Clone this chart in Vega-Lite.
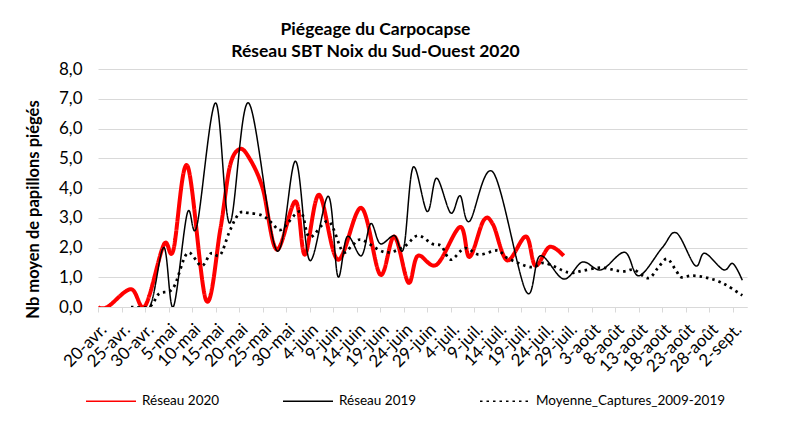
{
  "$schema": "https://vega.github.io/schema/vega-lite/v6.json",
  "width": 649,
  "height": 238,
  "autosize": {"type": "none"},
  "padding": {"left": 98, "top": 69, "right": 40, "bottom": 114},
  "background": "white",
  "config": {
    "font": "Lato",
    "view": {"stroke": null},
    "axis": {"labelColor": "#000000", "titleColor": "#000000"}
  },
  "title": {
    "text": ["Piégeage du Carpocapse", "Réseau SBT Noix du Sud-Ouest 2020"],
    "fontSize": 17.5,
    "fontWeight": "bold",
    "color": "#000000",
    "anchor": "middle",
    "dx": -47,
    "lineHeight": 22,
    "offset": 0
  },
  "data": {
    "values": [
      {"serie": "Réseau 2020", "date": "2020/04/20", "valeur": 0},
      {"serie": "Réseau 2020", "date": "2020/04/22", "valeur": 0},
      {"serie": "Réseau 2020", "date": "2020/04/27", "valeur": 0.6},
      {"serie": "Réseau 2020", "date": "2020/04/30", "valeur": 0.03},
      {"serie": "Réseau 2020", "date": "2020/05/04", "valeur": 2.1},
      {"serie": "Réseau 2020", "date": "2020/05/06", "valeur": 1.9},
      {"serie": "Réseau 2020", "date": "2020/05/09", "valeur": 4.75},
      {"serie": "Réseau 2020", "date": "2020/05/13", "valeur": 0.22},
      {"serie": "Réseau 2020", "date": "2020/05/16", "valeur": 2.6},
      {"serie": "Réseau 2020", "date": "2020/05/18", "valeur": 4.7},
      {"serie": "Réseau 2020", "date": "2020/05/20", "valeur": 5.3},
      {"serie": "Réseau 2020", "date": "2020/05/22", "valeur": 5.05},
      {"serie": "Réseau 2020", "date": "2020/05/25", "valeur": 4.0},
      {"serie": "Réseau 2020", "date": "2020/05/28", "valeur": 1.93},
      {"serie": "Réseau 2020", "date": "2020/06/01", "valeur": 3.55},
      {"serie": "Réseau 2020", "date": "2020/06/03", "valeur": 1.76},
      {"serie": "Réseau 2020", "date": "2020/06/06", "valeur": 3.77},
      {"serie": "Réseau 2020", "date": "2020/06/10", "valeur": 1.59},
      {"serie": "Réseau 2020", "date": "2020/06/15", "valeur": 3.33},
      {"serie": "Réseau 2020", "date": "2020/06/19", "valeur": 1.09},
      {"serie": "Réseau 2020", "date": "2020/06/22", "valeur": 2.37},
      {"serie": "Réseau 2020", "date": "2020/06/25", "valeur": 0.82},
      {"serie": "Réseau 2020", "date": "2020/06/27", "valeur": 1.72},
      {"serie": "Réseau 2020", "date": "2020/07/01", "valeur": 1.42},
      {"serie": "Réseau 2020", "date": "2020/07/06", "valeur": 2.69},
      {"serie": "Réseau 2020", "date": "2020/07/08", "valeur": 1.68},
      {"serie": "Réseau 2020", "date": "2020/07/11", "valeur": 2.91},
      {"serie": "Réseau 2020", "date": "2020/07/13", "valeur": 2.77},
      {"serie": "Réseau 2020", "date": "2020/07/16", "valeur": 1.57},
      {"serie": "Réseau 2020", "date": "2020/07/20", "valeur": 2.37},
      {"serie": "Réseau 2020", "date": "2020/07/22", "valeur": 1.39},
      {"serie": "Réseau 2020", "date": "2020/07/25", "valeur": 2.02},
      {"serie": "Réseau 2020", "date": "2020/07/28", "valeur": 1.72},

      {"serie": "Réseau 2019", "date": "2020/04/27", "valeur": 0},
      {"serie": "Réseau 2019", "date": "2020/05/01", "valeur": 0},
      {"serie": "Réseau 2019", "date": "2020/05/04", "valeur": 2.0},
      {"serie": "Réseau 2019", "date": "2020/05/06", "valeur": 0},
      {"serie": "Réseau 2019", "date": "2020/05/09", "valeur": 3.16},
      {"serie": "Réseau 2019", "date": "2020/05/11", "valeur": 2.71},
      {"serie": "Réseau 2019", "date": "2020/05/15", "valeur": 6.86},
      {"serie": "Réseau 2019", "date": "2020/05/18", "valeur": 2.82},
      {"serie": "Réseau 2019", "date": "2020/05/22", "valeur": 6.86},
      {"serie": "Réseau 2019", "date": "2020/05/28", "valeur": 1.9},
      {"serie": "Réseau 2019", "date": "2020/06/01", "valeur": 4.9},
      {"serie": "Réseau 2019", "date": "2020/06/04", "valeur": 1.57},
      {"serie": "Réseau 2019", "date": "2020/06/08", "valeur": 3.72},
      {"serie": "Réseau 2019", "date": "2020/06/10", "valeur": 1.03},
      {"serie": "Réseau 2019", "date": "2020/06/12", "valeur": 2.37},
      {"serie": "Réseau 2019", "date": "2020/06/15", "valeur": 1.72},
      {"serie": "Réseau 2019", "date": "2020/06/17", "valeur": 2.8},
      {"serie": "Réseau 2019", "date": "2020/06/19", "valeur": 2.13},
      {"serie": "Réseau 2019", "date": "2020/06/22", "valeur": 2.4},
      {"serie": "Réseau 2019", "date": "2020/06/24", "valeur": 1.98},
      {"serie": "Réseau 2019", "date": "2020/06/26", "valeur": 4.7},
      {"serie": "Réseau 2019", "date": "2020/06/29", "valeur": 3.21},
      {"serie": "Réseau 2019", "date": "2020/07/01", "valeur": 4.33},
      {"serie": "Réseau 2019", "date": "2020/07/04", "valeur": 3.16},
      {"serie": "Réseau 2019", "date": "2020/07/06", "valeur": 3.74},
      {"serie": "Réseau 2019", "date": "2020/07/08", "valeur": 2.88},
      {"serie": "Réseau 2019", "date": "2020/07/13", "valeur": 4.53},
      {"serie": "Réseau 2019", "date": "2020/07/20", "valeur": 0.53},
      {"serie": "Réseau 2019", "date": "2020/07/23", "valeur": 1.72},
      {"serie": "Réseau 2019", "date": "2020/07/28", "valeur": 0.94},
      {"serie": "Réseau 2019", "date": "2020/08/01", "valeur": 1.51},
      {"serie": "Réseau 2019", "date": "2020/08/05", "valeur": 1.25},
      {"serie": "Réseau 2019", "date": "2020/08/10", "valeur": 1.84},
      {"serie": "Réseau 2019", "date": "2020/08/13", "valeur": 1.05},
      {"serie": "Réseau 2019", "date": "2020/08/18", "valeur": 2.0},
      {"serie": "Réseau 2019", "date": "2020/08/21", "valeur": 2.49},
      {"serie": "Réseau 2019", "date": "2020/08/25", "valeur": 1.39},
      {"serie": "Réseau 2019", "date": "2020/08/27", "valeur": 1.81},
      {"serie": "Réseau 2019", "date": "2020/08/31", "valeur": 1.25},
      {"serie": "Réseau 2019", "date": "2020/09/02", "valeur": 1.46},
      {"serie": "Réseau 2019", "date": "2020/09/04", "valeur": 0.9},

      {"serie": "Moyenne_Captures_2009-2019", "date": "2020/04/27", "valeur": 0},
      {"serie": "Moyenne_Captures_2009-2019", "date": "2020/05/01", "valeur": 0.02},
      {"serie": "Moyenne_Captures_2009-2019", "date": "2020/05/03", "valeur": 0.45},
      {"serie": "Moyenne_Captures_2009-2019", "date": "2020/05/06", "valeur": 0.64},
      {"serie": "Moyenne_Captures_2009-2019", "date": "2020/05/09", "valeur": 1.81},
      {"serie": "Moyenne_Captures_2009-2019", "date": "2020/05/12", "valeur": 1.38},
      {"serie": "Moyenne_Captures_2009-2019", "date": "2020/05/14", "valeur": 1.8},
      {"serie": "Moyenne_Captures_2009-2019", "date": "2020/05/16", "valeur": 1.75},
      {"serie": "Moyenne_Captures_2009-2019", "date": "2020/05/18", "valeur": 2.55},
      {"serie": "Moyenne_Captures_2009-2019", "date": "2020/05/20", "valeur": 3.14},
      {"serie": "Moyenne_Captures_2009-2019", "date": "2020/05/22", "valeur": 3.16},
      {"serie": "Moyenne_Captures_2009-2019", "date": "2020/05/25", "valeur": 3.07},
      {"serie": "Moyenne_Captures_2009-2019", "date": "2020/05/27", "valeur": 2.82},
      {"serie": "Moyenne_Captures_2009-2019", "date": "2020/05/29", "valeur": 2.6},
      {"serie": "Moyenne_Captures_2009-2019", "date": "2020/06/02", "valeur": 3.21},
      {"serie": "Moyenne_Captures_2009-2019", "date": "2020/06/04", "valeur": 2.35},
      {"serie": "Moyenne_Captures_2009-2019", "date": "2020/06/08", "valeur": 2.88},
      {"serie": "Moyenne_Captures_2009-2019", "date": "2020/06/11", "valeur": 1.87},
      {"serie": "Moyenne_Captures_2009-2019", "date": "2020/06/13", "valeur": 2.06},
      {"serie": "Moyenne_Captures_2009-2019", "date": "2020/06/15", "valeur": 2.26},
      {"serie": "Moyenne_Captures_2009-2019", "date": "2020/06/20", "valeur": 1.84},
      {"serie": "Moyenne_Captures_2009-2019", "date": "2020/06/24", "valeur": 2.02},
      {"serie": "Moyenne_Captures_2009-2019", "date": "2020/06/27", "valeur": 2.4},
      {"serie": "Moyenne_Captures_2009-2019", "date": "2020/06/30", "valeur": 2.13},
      {"serie": "Moyenne_Captures_2009-2019", "date": "2020/07/02", "valeur": 2.05},
      {"serie": "Moyenne_Captures_2009-2019", "date": "2020/07/04", "valeur": 1.59},
      {"serie": "Moyenne_Captures_2009-2019", "date": "2020/07/07", "valeur": 1.98},
      {"serie": "Moyenne_Captures_2009-2019", "date": "2020/07/10", "valeur": 1.76},
      {"serie": "Moyenne_Captures_2009-2019", "date": "2020/07/14", "valeur": 1.9},
      {"serie": "Moyenne_Captures_2009-2019", "date": "2020/07/16", "valeur": 1.65},
      {"serie": "Moyenne_Captures_2009-2019", "date": "2020/07/21", "valeur": 1.34},
      {"serie": "Moyenne_Captures_2009-2019", "date": "2020/07/24", "valeur": 1.48},
      {"serie": "Moyenne_Captures_2009-2019", "date": "2020/07/29", "valeur": 1.16},
      {"serie": "Moyenne_Captures_2009-2019", "date": "2020/08/01", "valeur": 1.22},
      {"serie": "Moyenne_Captures_2009-2019", "date": "2020/08/04", "valeur": 1.31},
      {"serie": "Moyenne_Captures_2009-2019", "date": "2020/08/06", "valeur": 1.31},
      {"serie": "Moyenne_Captures_2009-2019", "date": "2020/08/08", "valeur": 1.23},
      {"serie": "Moyenne_Captures_2009-2019", "date": "2020/08/10", "valeur": 1.2},
      {"serie": "Moyenne_Captures_2009-2019", "date": "2020/08/12", "valeur": 1.25},
      {"serie": "Moyenne_Captures_2009-2019", "date": "2020/08/15", "valeur": 0.97},
      {"serie": "Moyenne_Captures_2009-2019", "date": "2020/08/17", "valeur": 1.3},
      {"serie": "Moyenne_Captures_2009-2019", "date": "2020/08/19", "valeur": 1.62},
      {"serie": "Moyenne_Captures_2009-2019", "date": "2020/08/21", "valeur": 1.2},
      {"serie": "Moyenne_Captures_2009-2019", "date": "2020/08/22", "valeur": 1.0},
      {"serie": "Moyenne_Captures_2009-2019", "date": "2020/08/24", "valeur": 1.05},
      {"serie": "Moyenne_Captures_2009-2019", "date": "2020/08/26", "valeur": 1.03},
      {"serie": "Moyenne_Captures_2009-2019", "date": "2020/08/28", "valeur": 0.96},
      {"serie": "Moyenne_Captures_2009-2019", "date": "2020/08/30", "valeur": 0.86},
      {"serie": "Moyenne_Captures_2009-2019", "date": "2020/09/01", "valeur": 0.7},
      {"serie": "Moyenne_Captures_2009-2019", "date": "2020/09/04", "valeur": 0.39}
    ]
  },
  "mark": {"type": "line", "interpolate": "cardinal", "clip": true},
  "encoding": {
    "x": {
      "field": "date",
      "type": "temporal",
      "scale": {"domain": [{"year": 2020, "month": 4, "date": 20}, {"year": 2020, "month": 9, "date": 5}]},
      "axis": {
        "title": null,
        "grid": false,
        "values": [
          {"year": 2020, "month": 4, "date": 20}, {"year": 2020, "month": 4, "date": 25}, {"year": 2020, "month": 4, "date": 30},
          {"year": 2020, "month": 5, "date": 5}, {"year": 2020, "month": 5, "date": 10}, {"year": 2020, "month": 5, "date": 15},
          {"year": 2020, "month": 5, "date": 20}, {"year": 2020, "month": 5, "date": 25}, {"year": 2020, "month": 5, "date": 30},
          {"year": 2020, "month": 6, "date": 4}, {"year": 2020, "month": 6, "date": 9}, {"year": 2020, "month": 6, "date": 14},
          {"year": 2020, "month": 6, "date": 19}, {"year": 2020, "month": 6, "date": 24}, {"year": 2020, "month": 6, "date": 29},
          {"year": 2020, "month": 7, "date": 4}, {"year": 2020, "month": 7, "date": 9}, {"year": 2020, "month": 7, "date": 14},
          {"year": 2020, "month": 7, "date": 19}, {"year": 2020, "month": 7, "date": 24}, {"year": 2020, "month": 7, "date": 29},
          {"year": 2020, "month": 8, "date": 3}, {"year": 2020, "month": 8, "date": 8}, {"year": 2020, "month": 8, "date": 13},
          {"year": 2020, "month": 8, "date": 18}, {"year": 2020, "month": 8, "date": 23}, {"year": 2020, "month": 8, "date": 28},
          {"year": 2020, "month": 9, "date": 2}
        ],
        "labelExpr": "date(datum.value) + '-' + ['janv.','févr.','mars','avr.','mai','juin','juil.','août','sept.','oct.','nov.','déc.'][month(datum.value)]",
        "labelAngle": -45,
        "labelFontSize": 17,
        "labelPadding": 9,
        "labelOverlap": false,
        "labelFlush": false,
        "domainColor": "#d9d9d9",
        "tickColor": "#d9d9d9",
        "tickSize": 5
      }
    },
    "y": {
      "field": "valeur",
      "type": "quantitative",
      "scale": {"domain": [0, 8], "nice": false, "zero": true},
      "axis": {
        "title": "Nb moyen de papillons piégés",
        "titleFontSize": 16.5,
        "titleFontWeight": "bold",
        "titleX": -57,
        "titleY": 140,
        "values": [0, 1, 2, 3, 4, 5, 6, 7, 8],
        "labelExpr": "replace(format(datum.value, '.1f'), '.', ',')",
        "labelFontSize": 17,
        "labelPadding": 16,
        "ticks": false,
        "domain": false,
        "grid": true,
        "gridColor": "#d9d9d9",
        "gridWidth": 1
      }
    },
    "color": {
      "field": "serie",
      "type": "nominal",
      "scale": {"domain": ["Réseau 2020", "Réseau 2019", "Moyenne_Captures_2009-2019"], "range": ["#ff0000", "#000000", "#000000"]},
      "legend": {
        "title": null,
        "orient": "none",
        "direction": "horizontal",
        "legendX": -13,
        "legendY": 306,
        "symbolType": "stroke",
        "symbolSize": 2500,
        "labelFontSize": 13.5,
        "labelColor": "#000000",
        "labelLimit": 300,
        "labelOffset": 5,
        "columnPadding": 60
      }
    },
    "strokeWidth": {
      "field": "serie",
      "type": "nominal",
      "scale": {"domain": ["Réseau 2019", "Moyenne_Captures_2009-2019", "Réseau 2020"], "range": [1.5, 4]},
      "legend": null
    },
    "strokeDash": {
      "field": "serie",
      "type": "nominal",
      "scale": {"domain": ["Réseau 2020", "Réseau 2019", "Moyenne_Captures_2009-2019"], "range": [[1, 0], [1, 0], [2.5, 4]]},
      "legend": null
    }
  }
}
